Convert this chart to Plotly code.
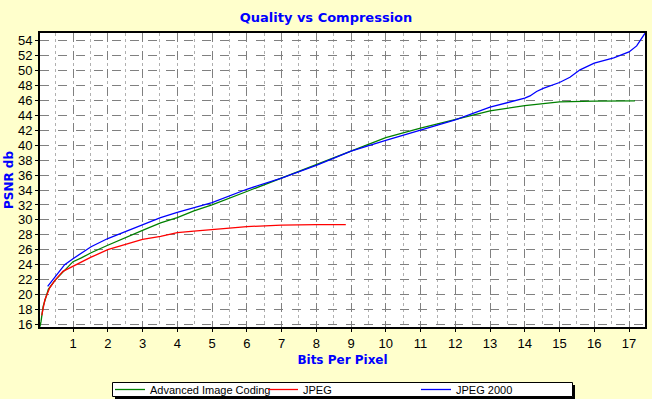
import plotly.graph_objects as go

# Advanced Image Coding (green)
aic_bpp = [0.05, 0.08, 0.14, 0.29, 0.48, 0.71, 0.9, 1.0, 1.24, 1.52, 2.0, 2.48, 3.0, 3.52, 4.0,
           4.48, 5.0, 6.0, 7.0, 8.0, 9.0, 10.0, 11.0, 12.0, 13.0, 14.0, 14.73, 15.0, 16.0, 17.17]
aic_psnr = [15.7, 16.4, 18.4, 20.7, 21.9, 23.0, 24.0, 24.4, 24.9, 25.6, 26.6, 27.6, 28.6, 29.6, 30.3,
            31.2, 32.0, 33.8, 35.6, 37.5, 39.3, 41.0, 42.3, 43.5, 44.6, 45.3, 45.7, 45.8, 45.9, 45.95]

# JPEG (red)
jpeg_bpp = [0.1, 0.19, 0.33, 0.48, 0.71, 1.0, 1.52, 2.0, 2.48, 3.0, 3.52, 4.0, 4.48, 5.0, 5.5,
            6.0, 6.5, 7.0, 8.0, 8.85]
jpeg_psnr = [17.2, 19.3, 20.9, 21.9, 23.1, 23.8, 25.0, 26.0, 26.7, 27.4, 27.8, 28.3, 28.5, 28.75, 28.9,
             29.1, 29.2, 29.3, 29.35, 29.35]

# JPEG 2000 (blue)
j2k_bpp = [0.27, 0.48, 0.76, 1.0, 1.52, 2.0, 2.48, 3.0, 3.52, 4.0, 4.48, 5.0, 6.0, 7.0, 8.0, 9.0,
           10.0, 11.0, 12.0, 13.0, 14.0, 14.15, 14.34, 14.53, 15.0, 15.3, 15.59, 16.0, 16.56, 17.0,
           17.22, 17.46]
j2k_psnr = [21.1, 22.4, 24.0, 24.8, 26.4, 27.5, 28.4, 29.4, 30.3, 31.0, 31.6, 32.3, 34.1, 35.6, 37.3,
            39.2, 40.65, 42.0, 43.4, 45.1, 46.3, 46.6, 47.2, 47.6, 48.4, 49.1, 50.1, 51.0, 51.7, 52.5,
            53.3, 55.0]

x_ticks = list(range(1, 18))
y_ticks = list(range(16, 55, 2))

BG = "#FFFFCC"
W, H = 652, 399
ML, MR, MT, MB = 40, 7, 33, 72
PW, PH = W - ML - MR, H - MT - MB

def px_x(p):
    return (p - ML) / PW

def px_y(p):
    return (H - MB - p) / PH

fig = go.Figure()
fig.add_trace(go.Scatter(x=aic_bpp, y=aic_psnr, mode="lines", name="Advanced Image Coding",
                         line=dict(color="#008000", width=1.3)))
fig.add_trace(go.Scatter(x=jpeg_bpp, y=jpeg_psnr, mode="lines", name="JPEG",
                         line=dict(color="#FF0000", width=1.3)))
fig.add_trace(go.Scatter(x=j2k_bpp, y=j2k_psnr, mode="lines", name="JPEG 2000",
                         line=dict(color="#0000FF", width=1.3)))

fig.update_layout(
    width=W, height=H,
    margin=dict(l=ML, r=MR, t=MT, b=MB, autoexpand=False),
    paper_bgcolor=BG, plot_bgcolor="white",
    font=dict(family="Liberation Sans, Arial, sans-serif", size=13, color="black"),
    title=dict(text="<b>Quality vs Compression</b>", x=0.5, xanchor="center",
               y=1 - 17 / H, yanchor="middle", yref="container",
               font=dict(family="DejaVu Sans, Verdana, sans-serif", size=13, color="#0000FF")),
    showlegend=True,
    legend=dict(orientation="h", xref="container", yref="container",
                x=110 / W, xanchor="left", y=1 - 389.5 / H, yanchor="middle",
                bgcolor="rgba(0,0,0,0)", borderwidth=0,
                font=dict(family="Liberation Sans, Arial, sans-serif", size=11, color="black"),
                entrywidth=108, entrywidthmode="pixels", itemwidth=30, traceorder="normal"),
    shapes=[
        dict(type="rect", xref="paper", yref="paper", layer="below",
             x0=px_x(115), x1=px_x(575), y0=px_y(399.5), y1=px_y(385),
             fillcolor="black", line=dict(width=0)),
        dict(type="rect", xref="paper", yref="paper", layer="below",
             x0=px_x(112.5), x1=px_x(572.5), y0=px_y(396.5), y1=px_y(382.5),
             fillcolor="white", line=dict(color="black", width=1)),
    ],
)

fig.update_xaxes(
    range=[0.05, 17.46], tickmode="array", tickvals=x_ticks, ticktext=[str(v) for v in x_ticks],
    showgrid=True, gridcolor="#808080", griddash="dash", gridwidth=1,
    minor=dict(dtick=0.5, tick0=0, showgrid=True, gridcolor="#B0B0B0", griddash="dot", gridwidth=1),
    showline=True, linecolor="black", linewidth=2, mirror=True,
    ticks="outside", ticklen=3, tickcolor="black", zeroline=False,
    title=dict(text="<b>Bits Per Pixel</b>", standoff=6,
               font=dict(family="DejaVu Sans, Verdana, sans-serif", size=12, color="#0000FF")),
)
fig.update_yaxes(
    range=[15.65, 55.03], tickmode="array", tickvals=y_ticks, ticktext=[str(v) for v in y_ticks],
    showgrid=True, gridcolor="#808080", griddash="dash", gridwidth=1,
    showline=True, linecolor="black", linewidth=2, mirror=True,
    ticks="outside", ticklen=3, tickcolor="black", zeroline=False,
    title=dict(text="<b>PSNR db</b>", standoff=2,
               font=dict(family="DejaVu Sans, Verdana, sans-serif", size=12, color="#0000FF")),
)

fig.write_html("out.html", config={"displayModeBar": False},
               post_script="document.body.style.margin='0';document.body.style.overflow='hidden';")
